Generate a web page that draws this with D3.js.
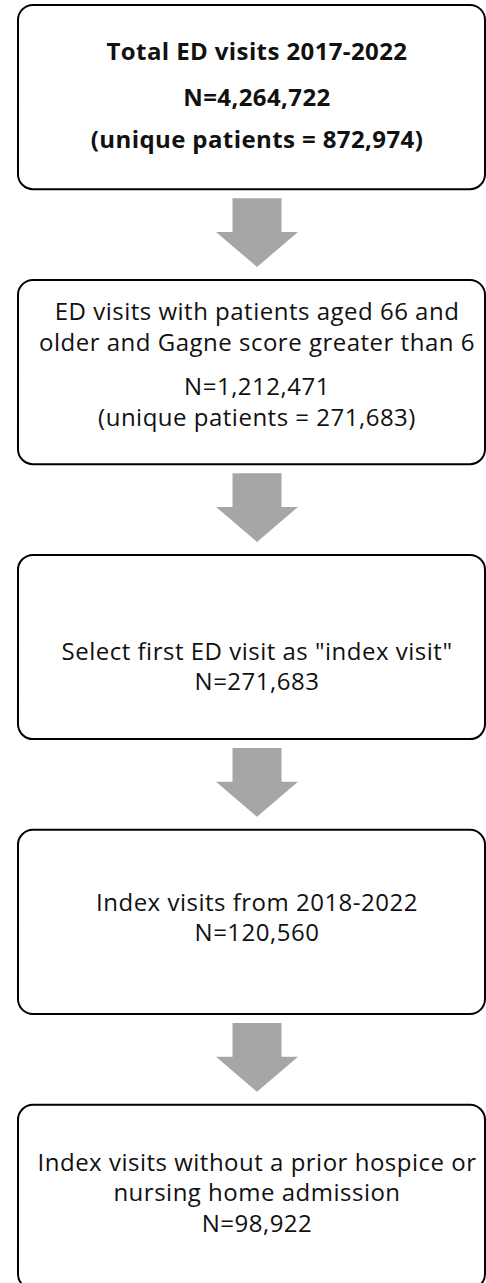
<!DOCTYPE html>
<html>
  <head>
    <meta charset="utf-8">
    <title>ED visits flow</title>
    <script src="https://cdn.jsdelivr.net/npm/d3@7"></script>
    <style>
      body { margin: 0; background: #fff; }
      svg text { font-family: "Open Sans", Lato, sans-serif; fill: #111; }
    </style>
  </head>
  <body>
    <div id="chart"></div>

    <script>
      // flow steps (description lines) and counts
      const descriptions = [
        ["Total ED visits 2017-2022"],
        ["ED visits with patients aged 66 and", "older and Gagne score greater than 6"],
        ["Select first ED visit as \"index visit\""],
        ["Index visits from 2018-2022"],
        ["Index visits without a prior hospice or", "nursing home admission"]
      ];
      const counts = [4264722, 1212471, 271683, 120560, 98922];
      const uniquePatients = [872974, 271683, null, null, null];

      // layout
      const width = 486, height = 1283;
      const boxLeft = 18, boxRight = 485;
      const arrowX = 257;
      const textTop = [47, 32, 97, 73, 58];   // first line centre, from box top
      const lineGap = [42, 31, 30, 30, 30];
      const countGap = [46, 44, 30, 30, 31];
      const bold = [true, false, false, false, false];
      const fmt = d3.format(",");

      const svg = d3.select("#chart")
        .append("svg")
          .attr("width", width)
          .attr("height", height);

      const y = d3.scaleBand()
        .domain(d3.range(counts.length))
        .range([5, 1289])
        .paddingInner(0.33)
        .paddingOuter(0);

      // arrows between boxes
      svg.selectAll(".arrow")
          .data(d3.range(counts.length - 1))
        .enter().append("path")
          .classed("arrow", true)
          .attr("fill", "#a6a6a6")
          .attr("d", function(i) {
            let top = y(i) + y.bandwidth() + 9;
            let tip = y(i + 1) - 13;
            let neck = tip - 35;
            return d3.line()([
              [arrowX - 24.5, top], [arrowX + 24.5, top], [arrowX + 24.5, neck],
              [arrowX + 41, neck], [arrowX, tip], [arrowX - 41, neck],
              [arrowX - 24.5, neck]
            ]) + "Z";
          });

      // boxes
      const box = svg.selectAll(".box")
          .data(d3.range(counts.length))
        .enter().append("g")
          .classed("box", true)
          .attr("transform", function(i) { return "translate(0," + y(i) + ")"; });

      box.append("rect")
        .attr("x", boxLeft)
        .attr("y", 0)
        .attr("width", boxRight - boxLeft)
        .attr("height", y.bandwidth())
        .attr("rx", 15)
        .attr("fill", "#fff")
        .attr("stroke", "#000")
        .attr("stroke-width", 2);

      box.each(function(i) {
        let lines = descriptions[i].map(function(t, j) {
          return { text: t, y: textTop[i] + j * lineGap[i] };
        });
        let last = lines[lines.length - 1].y;
        lines.push({ text: "N=" + fmt(counts[i]), y: last + countGap[i] });
        if (uniquePatients[i] != null) {
          lines.push({
            text: "(unique patients = " + fmt(uniquePatients[i]) + ")",
            y: last + countGap[i] + lineGap[i]
          });
        }
        d3.select(this).selectAll("text")
            .data(lines)
          .enter().append("text")
            .attr("x", arrowX)
            .attr("y", function(d) { return d.y; })
            .attr("dy", "0.35em")
            .attr("text-anchor", "middle")
            .style("font-size", "24px")
            .style("letter-spacing", bold[i] ? "0.4px" : "0.5px")
            .style("font-weight", bold[i] ? 700 : 400)
            .text(function(d) { return d.text; });
      });
    </script>
  </body>
</html>
